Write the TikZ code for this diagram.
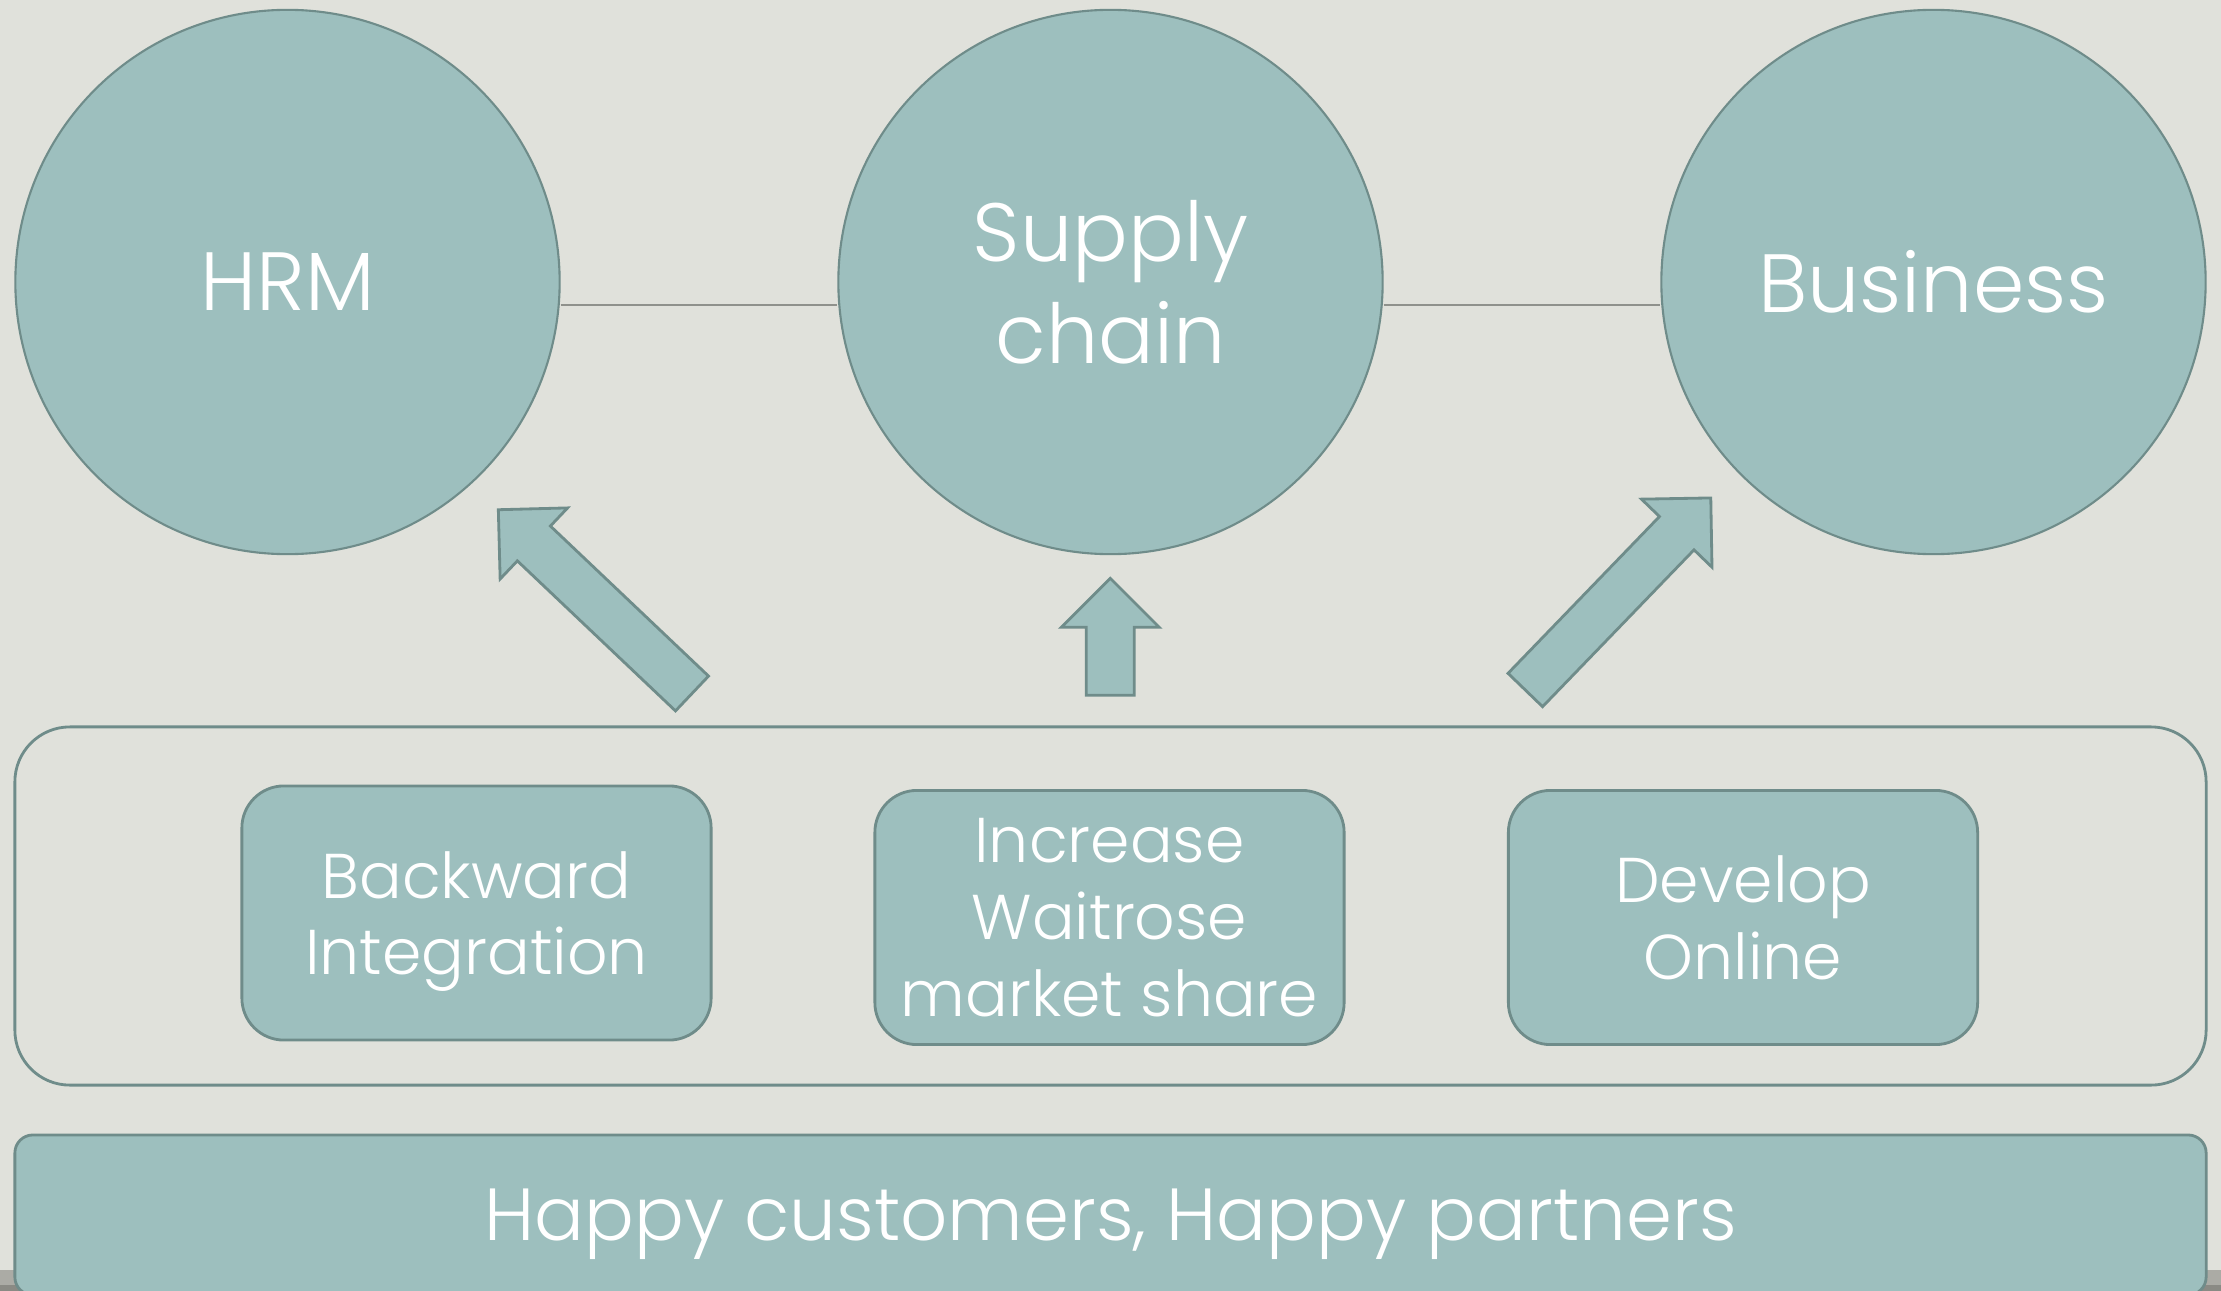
\documentclass[tikz,border=0pt]{standalone}
\usepackage{fontspec}
\setmainfont{Poppins}[UprightFont=* Light]
\usetikzlibrary{positioning}

\definecolor{pagebg}{HTML}{E0E1DB}
\definecolor{tealfill}{HTML}{9DBFBE}
\definecolor{tealline}{HTML}{6F8C8A}
\definecolor{linkgray}{HTML}{8F918C}
\definecolor{stripgray}{HTML}{ABABA5}
\definecolor{stripdark}{HTML}{8A8A84}

\tikzset{
  topic/.style={circle, draw=tealline, fill=tealfill, line width=0.6pt,
    minimum size=5.44cm, inner sep=0pt, text=white, align=center,
    font=\fontsize{23.5}{29}\selectfont},
  goal/.style={rectangle, rounded corners=0.42cm, draw=tealline, fill=tealfill,
    line width=0.8pt, minimum width=4.69cm, minimum height=2.54cm,
    text depth=0pt, text=white, align=center, font=\fontsize{18}{21.8}\selectfont},
  frame/.style={rectangle, rounded corners=0.55cm, draw=tealline, line width=0.8pt,
    minimum width=21.9cm, minimum height=3.58cm},
  base/.style={rectangle, rounded corners=0.18cm, draw=tealline, fill=tealfill,
    line width=0.8pt, minimum width=21.9cm, minimum height=1.6cm,
    text depth=0pt, text=white, font=\fontsize{21}{26}\selectfont},
  link/.style={draw=linkgray, line width=0.45pt},
  arrowshape/.style={draw=tealline, fill=tealfill, line width=0.8pt, line join=miter},
  pics/blockarrow/.style={code={
    \draw[arrowshape] (0,-24) -- (#1-49,-24) -- (#1-49,-49) -- (#1,0)
      -- (#1-49,49) -- (#1-49,24) -- (0,24) -- cycle;
  }}
}

\begin{document}
\begin{tikzpicture}[x=0.01cm, y=-0.01cm]
    % page
    \fill[pagebg] (0,0) rectangle (2221,1291);
    \useasboundingbox (0,0) rectangle (2221,1291);
    \fill[stripgray] (0,1270) rectangle (2221,1291);
    \fill[stripdark] (0,1285) rectangle (2221,1291);

    % three topics on top
    \node[topic] (hrm) at (287.5,282) {HRM};
    \node[topic] (supply) at (1110.5,282) {Supply\\chain};
    \node[topic] (business) at (1933.5,282) {Business};

    % thin links, a bit below the centres
    \draw[link] ([yshift=-0.23cm]hrm.east) -- ([yshift=-0.23cm]supply.west);
    \draw[link] ([yshift=-0.23cm]supply.east) -- ([yshift=-0.23cm]business.west);

    % block arrows
    \pic[rotate=136.5] at (692,693.5) {blockarrow=267};
    \pic[rotate=90] at (1110.3,695.3) {blockarrow=117};
    \pic[rotate=46] at (1525.3,690) {blockarrow=267};

    % strategy frame and goals
    \node[frame] (strategy) at (1110.5,906) {};
    \node[goal] (backward) at (476.5,913) {Backward\\Integration};
    \node[goal] (share) at (1109.5,917.5) {Increase\\Waitrose\\market share};
    \node[goal] (online) at (1743,917.5) {Develop\\Online};

    % foundation
    \node[base] (happy) at (1110.5,1215) {Happy customers, Happy partners};
\end{tikzpicture}
\end{document}
